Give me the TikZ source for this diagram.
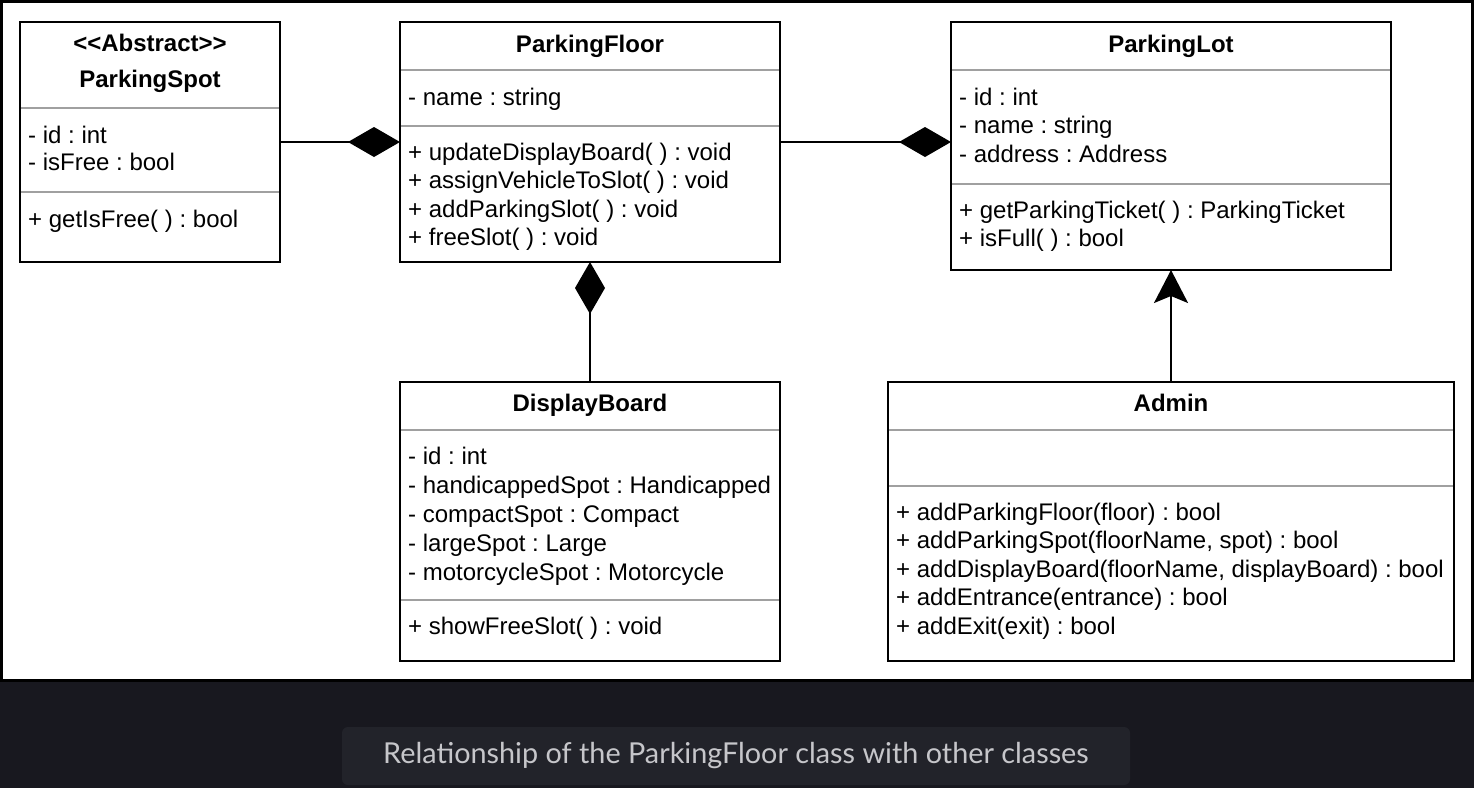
\documentclass[tikz,border=0pt]{standalone}
\usepackage{fontspec}
\setmainfont{Liberation Sans}
\newfontfamily\capfont{Lato}
\usetikzlibrary{arrows.meta}
\frenchspacing
\definecolor{pagebg}{HTML}{18181F}
\definecolor{capbg}{HTML}{22232A}
\definecolor{captext}{HTML}{C6C6CA}
\definecolor{sepgrey}{HTML}{A0A0A0}
\tikzset{
 clsbox/.style={draw=black, line width=2pt, fill=white, rectangle, inner sep=0pt, outer sep=0pt, anchor=north west},
 member/.style={inner sep=0pt, anchor=base west, font=\fontsize{24}{28}\selectfont},
 ctitle/.style={inner sep=0pt, anchor=base, font=\fontsize{24}{28}\selectfont\bfseries},
 sepline/.style={draw=sepgrey, line width=2pt},
 comp/.style={draw=black, line width=2pt, -{Diamond[length=52pt,width=30pt]}},
 gen/.style={draw=black, line width=2pt, -{Stealth[length=33pt,width=34pt,inset=7pt]}},
}
\begin{document}
\begin{tikzpicture}[x=1pt,y=-1pt]
\useasboundingbox (0,0) rectangle (1474,788);
\fill[pagebg] (0,0) rectangle (1474,788);
\draw[line width=3pt, fill=white] (1.5,1.5) rectangle (1472.5,680.5);

% ParkingSpot
\node[clsbox, minimum width=260pt, minimum height=240pt] (ps) at (20,22) {};
\node[ctitle] (ps-st) at (150,51) {<\kern0pt<Abstract>\kern0pt>};
\node[ctitle] (ps-t) at (150,87) {ParkingSpot};
\draw[sepline] (21,108) -- (279,108);
\node[member] (ps-a1) at (28,143) {- id : int};
\node[member] (ps-a2) at (28,170.5) {- isFree : bool};
\draw[sepline] (21,192) -- (279,192);
\node[member] (ps-m1) at (28,227) {+ getIsFree( ) : bool};

% ParkingFloor
\node[clsbox, minimum width=380pt, minimum height=240pt] (pf) at (400,22) {};
\node[ctitle] (pf-t) at (590,52) {ParkingFloor};
\draw[sepline] (401,70) -- (779,70);
\node[member] (pf-a1) at (408,105) {- name : string};
\draw[sepline] (401,126) -- (779,126);
\node[member] (pf-m1) at (408,160) {+ updateDisplayBoard( ) : void};
\node[member] (pf-m2) at (408,188.5) {+ assignVehicleToSlot( ) : void};
\node[member] (pf-m3) at (408,217) {+ addParkingSlot( ) : void};
\node[member] (pf-m4) at (408,245.5) {+ freeSlot( ) : void};

% ParkingLot
\node[clsbox, minimum width=440pt, minimum height=248pt] (pl) at (951,22) {};
\node[ctitle] (pl-t) at (1171,52) {ParkingLot};
\draw[sepline] (952,70) -- (1390,70);
\node[member] (pl-a1) at (959,105) {- id : int};
\node[member] (pl-a2) at (959,133.5) {- name : string};
\node[member] (pl-a3) at (959,162) {- address : Address};
\draw[sepline] (952,184) -- (1390,184);
\node[member] (pl-m1) at (959,218) {+ getParkingTicket( ) : ParkingTicket};
\node[member] (pl-m2) at (959,246) {+ isFull( ) : bool};

% DisplayBoard
\node[clsbox, minimum width=380pt, minimum height=279pt] (db) at (400,382) {};
\node[ctitle] (db-t) at (590,411.5) {DisplayBoard};
\draw[sepline] (401,430) -- (779,430);
\node[member] (db-a1) at (408,464) {- id : int};
\node[member] (db-a2) at (408,493) {- handicappedSpot : Handicapped};
\node[member] (db-a3) at (408,522) {- compactSpot : Compact};
\node[member] (db-a4) at (408,551) {- largeSpot : Large};
\node[member] (db-a5) at (408,580) {- motorcycleSpot : Motorcycle};
\draw[sepline] (401,600) -- (779,600);
\node[member] (db-m1) at (408,634) {+ showFreeSlot( ) : void};

% Admin
\node[clsbox, minimum width=566pt, minimum height=279pt] (adm) at (888,382) {};
\node[ctitle] (adm-t) at (1171,411.5) {Admin};
\draw[sepline] (889,430) -- (1453,430);
\draw[sepline] (889,486) -- (1453,486);
\node[member] (adm-m1) at (896,520) {+ addParkingFloor(floor) : bool};
\node[member] (adm-m2) at (896,548.5) {+ addParkingSpot(floorName, spot) : bool};
\node[member] (adm-m3) at (896,577) {+ addDisplayBoard(floorName, displayBoard) : bool};
\node[member] (adm-m4) at (896,605.5) {+ addEntrance(entrance) : bool};
\node[member] (adm-m5) at (896,634) {+ addExit(exit) : bool};

% connectors
\draw[comp] (ps.east) -- (pf.west);
\draw[comp] (pf.east) -- (pf.east -| pl.west);
\draw[comp] (db.north) -- (pf.south);
\draw[gen] (adm.north) -- (pl.south);

% caption
\node[fill=capbg, rounded corners=6pt, minimum width=788pt, minimum height=58pt, inner sep=0pt] (capbox) at (736,756) {};
\node[inner sep=0pt, text=captext, font=\capfont\fontsize{28.8}{32}\selectfont] (cap) at (736,756) {Relationship of the ParkingFloor class with other classes};
\end{tikzpicture}
\end{document}
